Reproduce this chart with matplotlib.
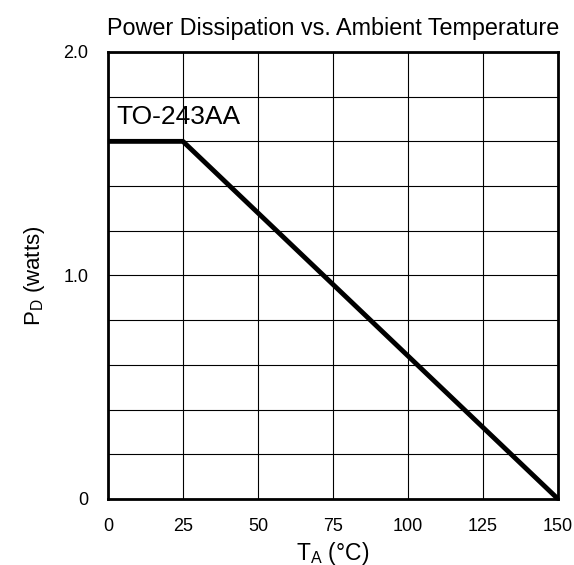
import matplotlib.pyplot as plt
import numpy as np

# curva de derating
temp_c = [0, 25, 150]
pd_watts = [1.6, 1.6, 0.0]

x_ticks = [0, 25, 50, 75, 100, 125, 150]
y_ticks = [0, 1.0, 2.0]
y_tick_labels = ["0", "1.0", "2.0"]
y_grid = np.arange(0.2, 2.0, 0.2)

plt.rcParams["font.family"] = ["Liberation Sans", "DejaVu Sans"]

fig = plt.figure(figsize=(5.74, 5.65), dpi=100)
ax = fig.add_axes([0.188, 0.117, 0.784, 0.791])

ax.plot(temp_c, pd_watts, color="black", linewidth=3.5, solid_capstyle="butt", zorder=5, clip_on=False)

ax.set_xlim(0, 150)
ax.set_ylim(0, 2.0)
ax.set_xticks(x_ticks)
ax.set_yticks(y_ticks)
ax.set_yticklabels(y_tick_labels)
ax.set_yticks(y_grid, minor=True)
ax.tick_params(which="both", length=0, labelsize=13)
ax.tick_params(axis="x", pad=14)
ax.tick_params(axis="y", pad=14)

ax.grid(True, which="both", color="black", linewidth=0.8)
for s in ax.spines.values():
    s.set_linewidth(2)

ax.text(2.7, 1.707, "TO-243AA", fontsize=19, va="center", ha="left")

ax.set_title("Power Dissipation vs. Ambient Temperature", fontsize=16.8, pad=12)
ax.set_xlabel("T$_\\mathregular{A}$ (°C)", fontsize=16.5, labelpad=3)
ax.set_ylabel("P$_\\mathregular{D}$ (watts)", fontsize=16, labelpad=12)

plt.savefig("out.png", dpi=100)
